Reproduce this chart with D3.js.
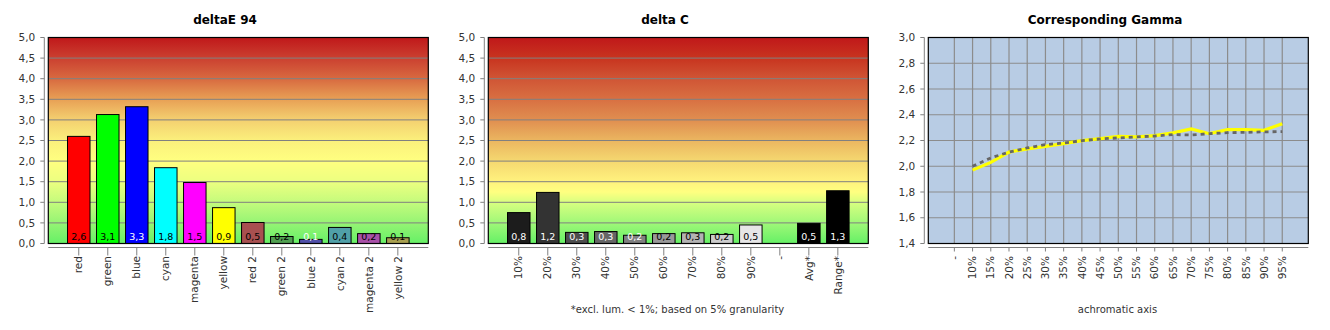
<!DOCTYPE html>
<html><head><meta charset="utf-8">
<script src="https://cdn.jsdelivr.net/npm/d3@7"></script>
<style>
html,body{margin:0;padding:0;background:#fff;}
text{font-family:"DejaVu Sans",sans-serif;}
</style></head>
<body><svg id="c" width="1330" height="330"></svg>
<script>
// ---------- DATA ----------
const deltaECategories = ["red","green","blue","cyan","magenta","yellow","red 2","green 2","blue 2","cyan 2","magenta 2","yellow 2"];
const deltaEValues = [2.60, 3.13, 3.32, 1.84, 1.48, 0.87, 0.51, 0.17, 0.10, 0.39, 0.24, 0.14];
const deltaEColors = ["#ff0000","#00ff00","#0000ff","#00ffff","#ff00ff","#ffff00","#a85050","#50a050","#5050a8","#50a0a8","#a850a8","#a8a050"];

const deltaCCategories = ["10%","20%","30%","40%","50%","60%","70%","80%","90%","-","Avg*","Range*"];
const deltaCValues = [0.75, 1.24, 0.27, 0.29, 0.20, 0.24, 0.26, 0.22, 0.45, null, 0.49, 1.28];
const deltaCColors = ["#1c1c1c","#333333","#4d4d4d","#666666","#808080","#999999","#b3b3b3","#cccccc","#e6e6e6","#000000","#000000","#000000"];

const barTicks = [0,0.5,1,1.5,2,2.5,3,3.5,4,4.5,5];

const gammaCategories = ["-","10%","15%","20%","25%","30%","35%","40%","45%","50%","55%","60%","65%","70%","75%","80%","85%","90%","95%"];
const gammaMeasured = [null,1.97,2.03,2.11,2.135,2.155,2.176,2.199,2.215,2.232,2.228,2.238,2.259,2.29,2.253,2.284,2.284,2.279,2.331];
const gammaReference = [null,2.00,2.065,2.11,2.142,2.168,2.181,2.199,2.212,2.22,2.228,2.235,2.246,2.243,2.253,2.261,2.263,2.267,2.269];
const gammaTicks = [1.4,1.6,1.8,2.0,2.2,2.4,2.6,2.8,3.0];

// ---------- LAYOUT ----------
const svg = d3.select("#c");
const fmt = v => d3.format(".1f")(v).replace(".", ",");
const PX0 = 48.3, PX1 = 428.3, PT = 37.5, PB = 243.5;

function gradient(id, stops){
  const g = svg.append("defs").append("linearGradient").attr("id", id)
    .attr("x1",0).attr("y1",0).attr("x2",0).attr("y2",1);
  stops.forEach(s => g.append("stop").attr("offset", s[0]).attr("stop-color", s[1]));
}
gradient("gE", [[0,"#c0181a"],[0.1,"#cb4030"],[0.2,"#d86a40"],[0.3,"#e8a055"],[0.4,"#f4d070"],[0.5,"#fbf07c"],[0.6,"#ffff80"],[0.7,"#ecff80"],[0.8,"#c4fb7c"],[0.9,"#96f474"],[1,"#66f066"]]);
gradient("gC", [[0,"#c0181a"],[0.1,"#c8341f"],[0.2,"#d05535"],[0.3,"#d87042"],[0.4,"#e08e50"],[0.5,"#ebb660"],[0.6,"#f5d870"],[0.7,"#fff27e"],[0.75,"#ffff80"],[0.8,"#d8ff80"],[0.9,"#a0f878"],[1,"#66f066"]]);

function yAxis(g, y, ticks, axX){
  g.append("line").attr("x1",axX).attr("x2",axX).attr("y1",PT).attr("y2",PB).attr("stroke","#808080");
  const t = g.selectAll(".yt").data(ticks).enter().append("g");
  t.append("line").attr("x1",axX-4).attr("x2",axX).attr("y1",d=>y(d)).attr("y2",d=>y(d)).attr("stroke","#808080");
  t.append("text").attr("x",axX-9).attr("y",d=>y(d)).attr("dy","0.35em").attr("text-anchor","end")
    .attr("font-size","10.5px").attr("fill","#333").text(d=>fmt(d));
}
function xAxis(g, x, cats, tickLen){
  g.append("line").attr("x1",PX0).attr("x2",PX1).attr("y1",247.5).attr("y2",247.5).attr("stroke","#808080");
  const t = g.selectAll(".xt").data(cats).enter().append("g");
  t.append("line").attr("x1",d=>x(d)).attr("x2",d=>x(d)).attr("y1",247.5).attr("y2",247.5+tickLen).attr("stroke","#808080");
  t.append("text").attr("transform",d=>`translate(${x(d)},256) rotate(-90)`).attr("dy","0.35em")
    .attr("text-anchor","end").attr("font-size","10.5px").attr("fill","#333").text(d=>d);
}

function barChart(ox, title, cats, vals, cols, gradId, lThresh, footnote){
  const g = svg.append("g").attr("transform",`translate(${ox},0)`);
  g.append("text").attr("x",225).attr("y",24).attr("text-anchor","middle").attr("font-weight","bold")
    .attr("font-size","12px").attr("fill","#000").text(title);
  const x = d3.scalePoint().domain(cats).range([PX0,PX1]).padding(1.05);
  const y = d3.scaleLinear().domain([0,5]).range([PB,PT]);
  g.append("rect").attr("x",PX0).attr("y",PT).attr("width",PX1-PX0).attr("height",PB-PT).attr("fill",`url(#${gradId})`);
  g.selectAll(".gl").data(barTicks.slice(1,-1)).enter().append("line")
    .attr("x1",PX0).attr("x2",PX1).attr("y1",d=>y(d)).attr("y2",d=>y(d)).attr("stroke","#808080");
  const bw = 22.5;
  const data = cats.map((c,i)=>({c, v: vals[i], col: cols[i]})).filter(d=>d.v!=null);
  g.selectAll(".bar").data(data).enter().append("rect")
    .attr("x",d=>x(d.c)-bw/2).attr("y",d=>y(d.v)).attr("width",bw).attr("height",d=>y(0)-y(d.v))
    .attr("fill",d=>d.col).attr("stroke","#000").attr("stroke-width",1);
  g.selectAll(".vl").data(data).enter().append("text")
    .attr("x",d=>x(d.c)).attr("y",240).attr("text-anchor","middle").attr("font-size","9.5px")
    .attr("fill",d=> d3.lab(d.col).l < lThresh ? "#fff" : "#000").text(d=>fmt(d.v));
  g.append("rect").attr("x",PX0).attr("y",PT).attr("width",PX1-PX0).attr("height",PB-PT)
    .attr("fill","none").attr("stroke","#000").attr("stroke-width",1.2);
  yAxis(g, y, barTicks, 44.3);
  xAxis(g, x, cats, 8);
  if (footnote) g.append("text").attr("x",237.5).attr("y",313).attr("text-anchor","middle")
    .attr("font-size","10px").attr("fill","#333").text(footnote);
}

barChart(0, "deltaE 94", deltaECategories, deltaEValues, deltaEColors, "gE", 42, null);
barChart(440, "delta C", deltaCCategories, deltaCValues, deltaCColors, "gC", 58, "*excl. lum. < 1%; based on 5% granularity");

// gamma chart
(function(){
  const g = svg.append("g").attr("transform","translate(880,0)");
  g.append("text").attr("x",225).attr("y",24).attr("text-anchor","middle").attr("font-weight","bold")
    .attr("font-size","12px").attr("fill","#000").text("Corresponding Gamma");
  const x = d3.scalePoint().domain(gammaCategories).range([PX0,PX1]).padding(1.43);
  const y = d3.scaleLinear().domain([1.4,3.0]).range([PB,PT]);
  g.append("rect").attr("x",PX0).attr("y",PT).attr("width",PX1-PX0).attr("height",PB-PT).attr("fill","#b8cce4");
  g.selectAll(".hg").data(gammaTicks.slice(1,-1)).enter().append("line")
    .attr("x1",PX0).attr("x2",PX1).attr("y1",d=>y(d)).attr("y2",d=>y(d)).attr("stroke","#8c8c8c").attr("stroke-width",1.2);
  g.selectAll(".vg").data(gammaCategories).enter().append("line")
    .attr("x1",d=>x(d)).attr("x2",d=>x(d)).attr("y1",PT).attr("y2",PB).attr("stroke","#8c8c8c").attr("stroke-width",1.2);
  const line = d3.line().defined(d=>d.v!=null).x(d=>x(d.c)).y(d=>y(d.v));
  g.append("path").datum(gammaCategories.map((c,i)=>({c,v:gammaMeasured[i]})))
    .attr("d",line).attr("fill","none").attr("stroke","#ffff00").attr("stroke-width",3.2);
  g.append("path").datum(gammaCategories.map((c,i)=>({c,v:gammaReference[i]})))
    .attr("d",line).attr("fill","none").attr("stroke","#666666").attr("stroke-width",2.8).attr("stroke-dasharray","4,4");
  g.append("rect").attr("x",PX0).attr("y",PT).attr("width",PX1-PX0).attr("height",PB-PT)
    .attr("fill","none").attr("stroke","#000").attr("stroke-width",1.2);
  yAxis(g, y, gammaTicks, 44.3);
  xAxis(g, x, gammaCategories, 4);
  g.append("text").attr("x",237.5).attr("y",313).attr("text-anchor","middle")
    .attr("font-size","10px").attr("fill","#333").text("achromatic axis");
})();
</script></body></html>
